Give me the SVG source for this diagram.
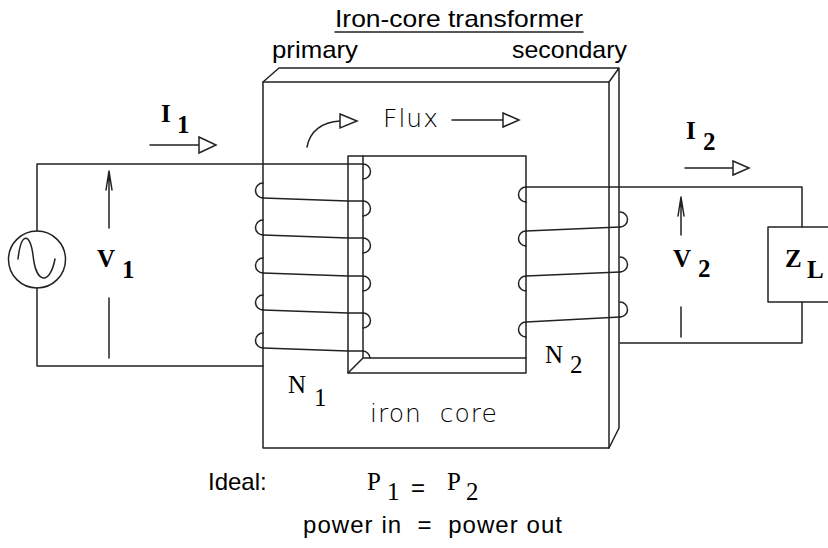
<svg xmlns="http://www.w3.org/2000/svg" width="828" height="548" viewBox="0 0 828 548">
<style>
.ln{fill:none;stroke:#222;stroke-width:1.5;stroke-linecap:round;stroke-linejoin:round}
.sans{font-family:"Liberation Sans",Arial,sans-serif;font-size:24px;fill:#000}
.thin{font-family:"DejaVu Sans ExtraLight","DejaVu Sans",sans-serif;font-weight:200;font-size:25px;fill:#000}
.bold{font-family:"Liberation Serif","Times New Roman",serif;font-weight:bold;font-size:25px;fill:#000}
.serif{font-family:"Liberation Serif","Times New Roman",serif;font-size:25px;fill:#000}
.head{fill:#fff;stroke:#222;stroke-width:1.5;stroke-linejoin:miter}
</style>
<rect width="828" height="548" fill="#fff"/>

<g id="title">
<text class="sans" x="335" y="27" textLength="248" lengthAdjust="spacingAndGlyphs">Iron-core transformer</text>
<line class="ln" x1="335" y1="32" x2="583" y2="32" stroke-linecap="butt"/>
<text class="sans" x="272" y="58" textLength="86" lengthAdjust="spacingAndGlyphs">primary</text>
<text class="sans" x="512" y="58" textLength="115" lengthAdjust="spacingAndGlyphs">secondary</text>
</g>

<g id="core">
<path class="ln" d="M263,82 H609 V448 H263 Z"/>
<path class="ln" d="M263,82 L279,68 H619 V428 L609,448 M609,82 L619,68"/>
<path class="ln" d="M348,156 H526 V373 H348 Z"/>
<path class="ln" d="M363,156 V358 H526 M348,373 L363,358"/>
<text class="thin" x="370" y="422" textLength="127" xml:space="preserve">iron  core</text>
</g>

<g id="flux">
<path class="ln" d="M307,147 C310,131 322,122 340,121"/>
<polygon class="head" points="340,114 357,121 340,128"/>
<text class="thin" x="383" y="127" textLength="55">Flux</text>
<line class="ln" x1="452" y1="120" x2="503" y2="120"/>
<polygon class="head" points="503,113 519,120 503,127"/>
</g>

<g id="source">
<circle class="ln" cx="37" cy="259.5" r="28.5"/>
<path class="ln" d="M18,259 C21,232 30,232 33,255 C36,285 50,285 55,259"/>
</g>

<g id="primary-winding">
<path class="ln" d="M263,183 A7.5,7.5 0 0 0 263,198 M263,220 A7.5,7.5 0 0 0 263,235 M263,258 A7.5,7.5 0 0 0 263,273 M263,295 A7.5,7.5 0 0 0 263,310 M263,333 A7.5,7.5 0 0 0 263,348"/>
<path class="ln" d="M363,164 A7.5,7.5 0 0 1 363,179 M363,201 A7.5,7.5 0 0 1 363,216 M363,238 A7.5,7.5 0 0 1 363,253 M363,276 A7.5,7.5 0 0 1 363,291 M363,313 A7.5,7.5 0 0 1 363,328 M363,351 A7.5,7.5 0 0 1 370,358"/>
<text class="serif" x="288" y="393" font-size="23">N</text>
<text class="serif" x="314" y="406" font-size="26">1</text>
</g>

<g id="secondary-winding">
<path class="ln" d="M526,187 A7.5,7.5 0 0 0 526,202 M526,231 A7.5,7.5 0 0 0 526,246 M526,276 A7.5,7.5 0 0 0 526,291 M526,322 A7.5,7.5 0 0 0 526,337"/>
<path class="ln" d="M620,212 A7.5,7.5 0 0 1 620,227 M620,257 A7.5,7.5 0 0 1 620,272 M620,302 A7.5,7.5 0 0 1 620,317"/>
<text class="serif" x="545" y="363" font-size="23">N</text>
<text class="serif" x="570" y="373" font-size="26">2</text>
</g>

<g id="load">
<path class="ln" d="M835,227 H768 V302 H835"/>
<text class="bold" x="785" y="267">Z</text>
<text class="bold" x="807" y="278">L</text>
</g>

<g id="connectors">
<path class="ln" d="M37,231 V164 H363"/>
<path class="ln" d="M37,288 V366 H263"/>
<path class="ln" d="M263,198 L348,201 H363 M263,235 L348,238 H363 M263,273 L348,276 H363 M263,310 L348,313 H363 M263,348 L348,351 H363"/>
<path class="ln" d="M526,187 H802 V227 M802,302 V343 H620"/>
<path class="ln" d="M526,231 L620,227 M526,276 L620,272 M526,322 L620,317"/>
<line class="ln" x1="150" y1="145" x2="199" y2="145"/>
<polygon class="head" points="199,137 216,145 199,153"/>
<line class="ln" x1="685" y1="168" x2="733" y2="168"/>
<polygon class="head" points="733,161 749,168 733,175"/>
<path class="ln" d="M109,228 V171 M106,190 L109,171 L112,190"/>
<path class="ln" d="M109,298 V358"/>
<path class="ln" d="M681,235 V197 M678,216 L681,197 L684,216"/>
<path class="ln" d="M681,307 V337"/>
</g>

<g id="labels">
<text class="bold" x="161" y="122">I</text>
<text class="bold" x="177" y="133" font-size="24">1</text>
<text class="bold" x="97" y="267">V</text>
<text class="bold" x="122" y="278" font-size="24">1</text>
<text class="bold" x="686" y="139">I</text>
<text class="bold" x="703" y="150" font-size="24">2</text>
<text class="bold" x="673" y="267">V</text>
<text class="bold" x="698" y="277" font-size="24">2</text>
<text class="sans" x="208" y="490">Ideal:</text>
<text class="serif" x="367" y="490" font-size="26">P</text>
<text class="serif" x="387" y="500" font-size="26">1</text>
<text class="sans" x="411" y="496">=</text>
<text class="serif" x="447" y="490" font-size="26">P</text>
<text class="serif" x="466" y="500" font-size="26">2</text>
<text class="sans" x="303" y="533" textLength="259" xml:space="preserve">power in  =  power out</text>
</g>
</svg>
